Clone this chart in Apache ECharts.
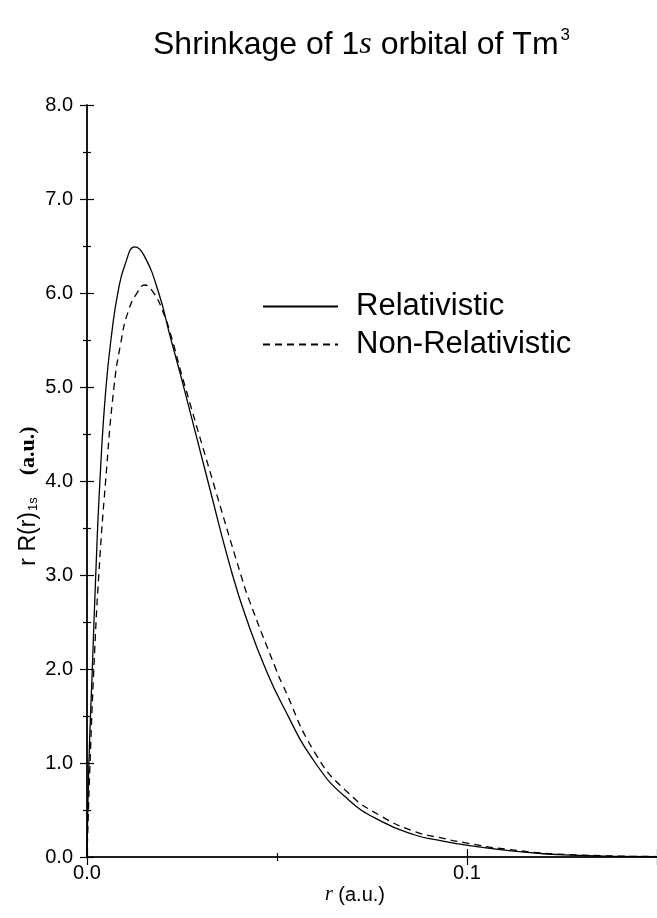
<!DOCTYPE html>
<html>
<head>
<meta charset="utf-8">
<script src="https://cdn.jsdelivr.net/npm/echarts@6/dist/echarts.min.js"></script>
<style>
  html, body { margin: 0; padding: 0; background: #fff; }
  #main { width: 657px; height: 918px; }
</style>
</head>
<body>
<div id="main"></div>
<script>
// radius (a.u.) and r R(r) values
const relR = [0, 0.0005, 0.0014, 0.0023, 0.0034, 0.0049, 0.0066, 0.0082, 0.0100, 0.0126, 0.0150, 0.0188, 0.0220, 0.0250, 0.0318, 0.0383, 0.0427, 0.0466, 0.0514, 0.0601, 0.0688, 0.0776, 0.0863, 0.0924, 0.0994, 0.1099, 0.1270, 0.1500];
const relVal = [0, 1.0, 2.0, 3.0, 4.0, 4.95, 5.6, 6.02, 6.3, 6.49, 6.40, 6.01, 5.52, 5.07, 4.0, 3.0, 2.45, 2.04, 1.62, 1.00, 0.61, 0.376, 0.234, 0.18, 0.128, 0.074, 0.02, 0.004];

const nonR = [0, 0.0008, 0.0018, 0.0031, 0.0049, 0.0071, 0.0089, 0.0108, 0.0133, 0.0152, 0.0174, 0.0202, 0.0223, 0.0250, 0.0331, 0.0405, 0.0427, 0.0497, 0.0514, 0.0601, 0.0688, 0.0776, 0.0863, 0.0924, 0.0994, 0.1099, 0.1270, 0.1500];
const nonVal = [0, 1.0, 2.0, 3.0, 4.0, 5.0, 5.47, 5.80, 6.01, 6.085, 6.01, 5.78, 5.52, 5.12, 4.0, 3.0, 2.73, 2.0, 1.84, 1.10, 0.68, 0.43, 0.27, 0.21, 0.152, 0.085, 0.025, 0.005];

const seriesNames = ['Relativistic', 'Non-Relativistic'];
const xLabels = [0, 0.1];

const chart = echarts.init(document.getElementById('main'));

const pairs = (xs, ys) => xs.map((x, i) => [x, ys[i]]);
const ink = '#000';
const frameLine = { show: true, lineStyle: { color: '#111', width: 1.6 } };
const tick = (len) => ({ show: true, inside: true, length: len, lineStyle: { color: ink, width: 1.2 } });
const minor = { show: true, splitNumber: 2, length: 4, lineStyle: { color: ink, width: 1.2 } };

chart.setOption({
  animation: false,
  backgroundColor: '#fff',
  textStyle: { fontFamily: 'Liberation Sans', color: ink },
  title: {
    text: '{a|Shrinkage of 1}{s|s}{a| orbital of Tm}{sup|3}',
    left: 148,
    top: 22,
    textStyle: {
      rich: {
        a: { fontFamily: 'Liberation Sans', fontWeight: 'normal', fontSize: 32, color: ink, lineHeight: 36 },
        s: { fontFamily: 'Liberation Serif', fontStyle: 'italic', fontWeight: 'normal', fontSize: 32, color: ink, lineHeight: 36 },
        sup: { fontFamily: 'Liberation Sans', fontWeight: 'normal', fontSize: 17, color: ink, verticalAlign: 'top', lineHeight: 36, padding: [0, 0, 0, 2] }
      }
    }
  },
  legend: {
    left: 257,
    top: 286,
    orient: 'vertical',
    itemWidth: 75,
    itemHeight: 14,
    itemGap: 7,
    data: seriesNames,
    itemStyle: { color: 'rgba(0,0,0,0)', borderWidth: 0, opacity: 0 },
    textStyle: { fontSize: 31, lineHeight: 31, color: ink, padding: [0, 0, 0, 13] }
  },
  grid: { left: 87, right: -3, top: 105, bottom: 61 },
  xAxis: [
    {
      type: 'value',
      min: 0,
      max: 0.15,
      interval: 0.1,
      position: 'bottom',
      axisLine: frameLine,
      axisTick: tick(8),
      minorTick: minor,
      splitLine: { show: false },
      axisLabel: {
        fontSize: 20, color: ink, margin: 6, showMaxLabel: false,
        formatter: v => (xLabels.some(t => Math.abs(t - v) < 1e-9) ? v.toFixed(1) : '')
      },
      name: '{i|r}{a| (a.u.)}',
      nameLocation: 'middle',
      nameGap: 28,
      nameMoveOverlap: false,
      nameTextStyle: {
        padding: [0, 34, 0, 0],
        rich: {
          i: { fontFamily: 'Liberation Serif', fontStyle: 'italic', fontSize: 20, color: ink },
          a: { fontFamily: 'Liberation Sans', fontSize: 20, color: ink }
        }
      }
    },
    {
      type: 'value',
      min: 0,
      max: 0.15,
      interval: 0.1,
      position: 'top',
      axisLine: frameLine,
      axisTick: tick(8),
      minorTick: minor,
      splitLine: { show: false },
      axisLabel: { show: false }
    }
  ],
  yAxis: [
    {
      type: 'value',
      min: 0,
      max: 8,
      interval: 1,
      position: 'left',
      axisLine: frameLine,
      axisTick: tick(7),
      minorTick: minor,
      splitLine: { show: false },
      axisLabel: { fontSize: 20, color: ink, margin: 14, formatter: v => v.toFixed(1) },
      name: '{a|r R(r)}{sub|1s}{gap| }{b|(a.u.)}',
      nameLocation: 'middle',
      nameRotate: 90,
      nameGap: 47,
      nameMoveOverlap: false,
      nameTextStyle: {
        padding: [0, 30, 0, 0],
        rich: {
          a: { fontFamily: 'Liberation Sans', fontSize: 23, color: ink },
          sub: { fontFamily: 'Liberation Sans', fontSize: 13, color: ink, verticalAlign: 'bottom', padding: [0, 0, 0, 1] },
          gap: { width: 22 },
          b: { fontFamily: 'Liberation Serif', fontWeight: 'bold', fontSize: 22, color: ink }
        }
      }
    },
    {
      type: 'value',
      min: 0,
      max: 8,
      interval: 1,
      position: 'right',
      axisLine: frameLine,
      axisTick: tick(7),
      minorTick: minor,
      splitLine: { show: false },
      axisLabel: { show: false }
    }
  ],
  series: [
    {
      name: seriesNames[0],
      type: 'line',
      data: pairs(relR, relVal),
      symbol: 'none',
      smooth: 0.5,
      lineStyle: { color: ink, width: 1.3 },
      itemStyle: { color: ink }
    },
    {
      name: seriesNames[1],
      type: 'line',
      data: pairs(nonR, nonVal),
      symbol: 'none',
      smooth: 0.5,
      lineStyle: { color: ink, width: 1.3, type: [7, 5] },
      itemStyle: { color: ink }
    }
  ]
});
</script>
</body>
</html>
